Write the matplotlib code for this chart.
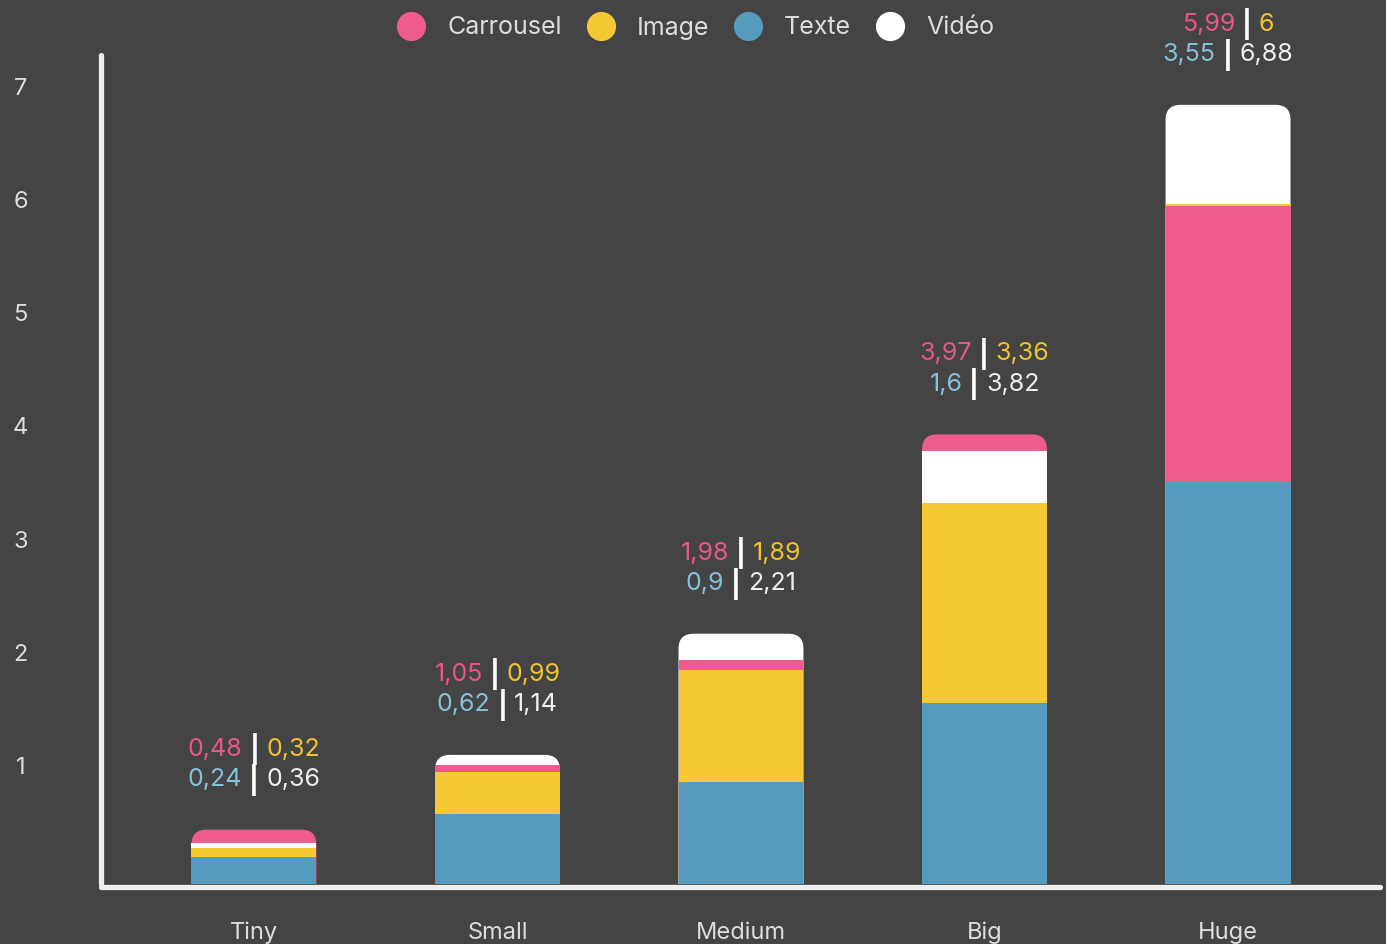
# Overlapping bars: engagement by account size and post type
import numpy as np
import matplotlib.pyplot as plt
from matplotlib.patches import FancyBboxPatch
from matplotlib.transforms import offset_copy, ScaledTranslation

categories = ["Tiny", "Small", "Medium", "Big", "Huge"]
series = ["Carrousel", "Image", "Texte", "Vidéo"]
carrousel = [0.48, 1.05, 1.98, 3.97, 5.99]
image = [0.32, 0.99, 1.89, 3.36, 6.00]
texte = [0.24, 0.62, 0.90, 1.60, 3.55]
video = [0.36, 1.14, 2.21, 3.82, 6.88]
yticks = [1, 2, 3, 4, 5, 6, 7]

bg = "#444444"
fill = {"Carrousel": "#ef5b8f", "Image": "#f5c934", "Texte": "#559bbd", "Vidéo": "#ffffff"}
txt = {"Carrousel": "#e8568a", "Image": "#efc22e", "Texte": "#86c0da", "Vidéo": "#eeeeee"}
values = {"Carrousel": carrousel, "Image": image, "Texte": texte, "Vidéo": video}

plt.rcParams['font.family'] = ['Inter', 'DejaVu Sans']

fig = plt.figure(figsize=(13.86, 9.44), dpi=100, facecolor=bg)
ax = fig.add_axes([101/1386, 60/944, 1279/1386, 829/944], facecolor=bg)
x = np.arange(len(categories))
ax.set_xlim(-0.628, 4.624)
ax.set_ylim(0, 7.32)
width = 0.513

# draw each series from 0, taller ones behind
bars = {}
for s in series:
    bars[s] = ax.bar(x, values[s], width, color=fill[s], linewidth=0)

# px sizes for rounding
p0 = ax.transData.transform((0, 0))
p1 = ax.transData.transform((1, 1))
xpx = p1[0] - p0[0]
ypx = p1[1] - p0[1]
radius = 15 / xpx
ry = 15 / ypx
for i in range(len(categories)):
    order = sorted(series, key=lambda s: -values[s][i])
    for z, s in enumerate(order):
        rect = bars[s][i]
        rect.set_zorder(2 + z)
        if z == 0:
            rect.set_visible(False)
            # start below 0 so the lower rounded corners get clipped away
            fb = FancyBboxPatch((rect.get_x(), -2 * ry), rect.get_width(), rect.get_height() + 2 * ry,
                                boxstyle=f"round,pad=0,rounding_size={radius}",
                                mutation_aspect=xpx / ypx, facecolor=fill[s],
                                linewidth=0, zorder=2)
            ax.add_patch(fb)

for sp in ["top", "right"]:
    ax.spines[sp].set_visible(False)
for sp in ["left", "bottom"]:
    ax.spines[sp].set_color("#eeeeee")
    ax.spines[sp].set_linewidth(3.8)
    ax.spines[sp].set_capstyle("round")
ax.spines["bottom"].set_position(("data", -0.028))
ax.spines["left"].set_zorder(10)
ax.spines["bottom"].set_zorder(10)

ax.set_yticks(yticks)
ax.set_yticklabels([str(v) for v in yticks])
ax.set_xticks(x)
ax.set_xticklabels(categories)
ax.tick_params(axis="y", length=0, pad=58, labelsize=17, labelcolor="#dddddd")
ax.tick_params(axis="x", length=0, pad=25, labelsize=17, labelcolor="#dddddd")
for t in ax.get_yticklabels():
    t.set_horizontalalignment("center")
    t.set_transform(t.get_transform() + ScaledTranslation(0, 5 / 100, fig.dpi_scale_trans))

# two-line value labels: Carrousel | Image  /  Texte | Vidéo
lines = [("Carrousel", "Image", 58), ("Texte", "Vidéo", 36)]
fmt = lambda v: f"{v:g}".replace(".", ",")
groups = []
for i in range(len(categories)):
    top = max(values[s][i] for s in series)
    for a, b, dy in lines:
        tr = offset_copy(ax.transData, fig=fig, x=0, y=dy, units="points")
        ta = ax.text(x[i], top, fmt(values[a][i]), color=txt[a], fontsize=18,
                     ha="left", va="center", transform=tr, zorder=20)
        td = ax.text(x[i], top, "|", color="white", fontsize=19, fontweight="bold",
                     ha="left", va="center", transform=tr, zorder=20)
        tb = ax.text(x[i], top, fmt(values[b][i]), color=txt[b], fontsize=18,
                     ha="left", va="center", transform=tr, zorder=20)
        groups.append((i, top, dy, ta, td, tb))

fig.canvas.draw()
r = fig.canvas.get_renderer()
gap = 7
for i, top, dy, ta, td, tb in groups:
    wa = ta.get_window_extent(r).width
    wd = td.get_window_extent(r).width
    wb = tb.get_window_extent(r).width
    total = wa + gap + wd + gap + wb
    start = -total / 2
    for t, off in [(ta, start), (td, start + wa + gap), (tb, start + wa + gap + wd + gap)]:
        t.set_transform(offset_copy(ax.transData, fig=fig, x=off * 72 / 100, y=dy, units="points"))

handles = [plt.Line2D([], [], marker="o", linestyle="none", markersize=21,
                      markerfacecolor=fill[s], markeredgewidth=0) for s in series]
leg = fig.legend(handles, series, loc="center", bbox_to_anchor=(0.498, 1 - 28/944), ncol=4,
                 frameon=False, fontsize=18, handletextpad=0.45, columnspacing=0.55,
                 labelcolor="#dddddd")

plt.savefig("out.png", dpi=100, facecolor=bg)
